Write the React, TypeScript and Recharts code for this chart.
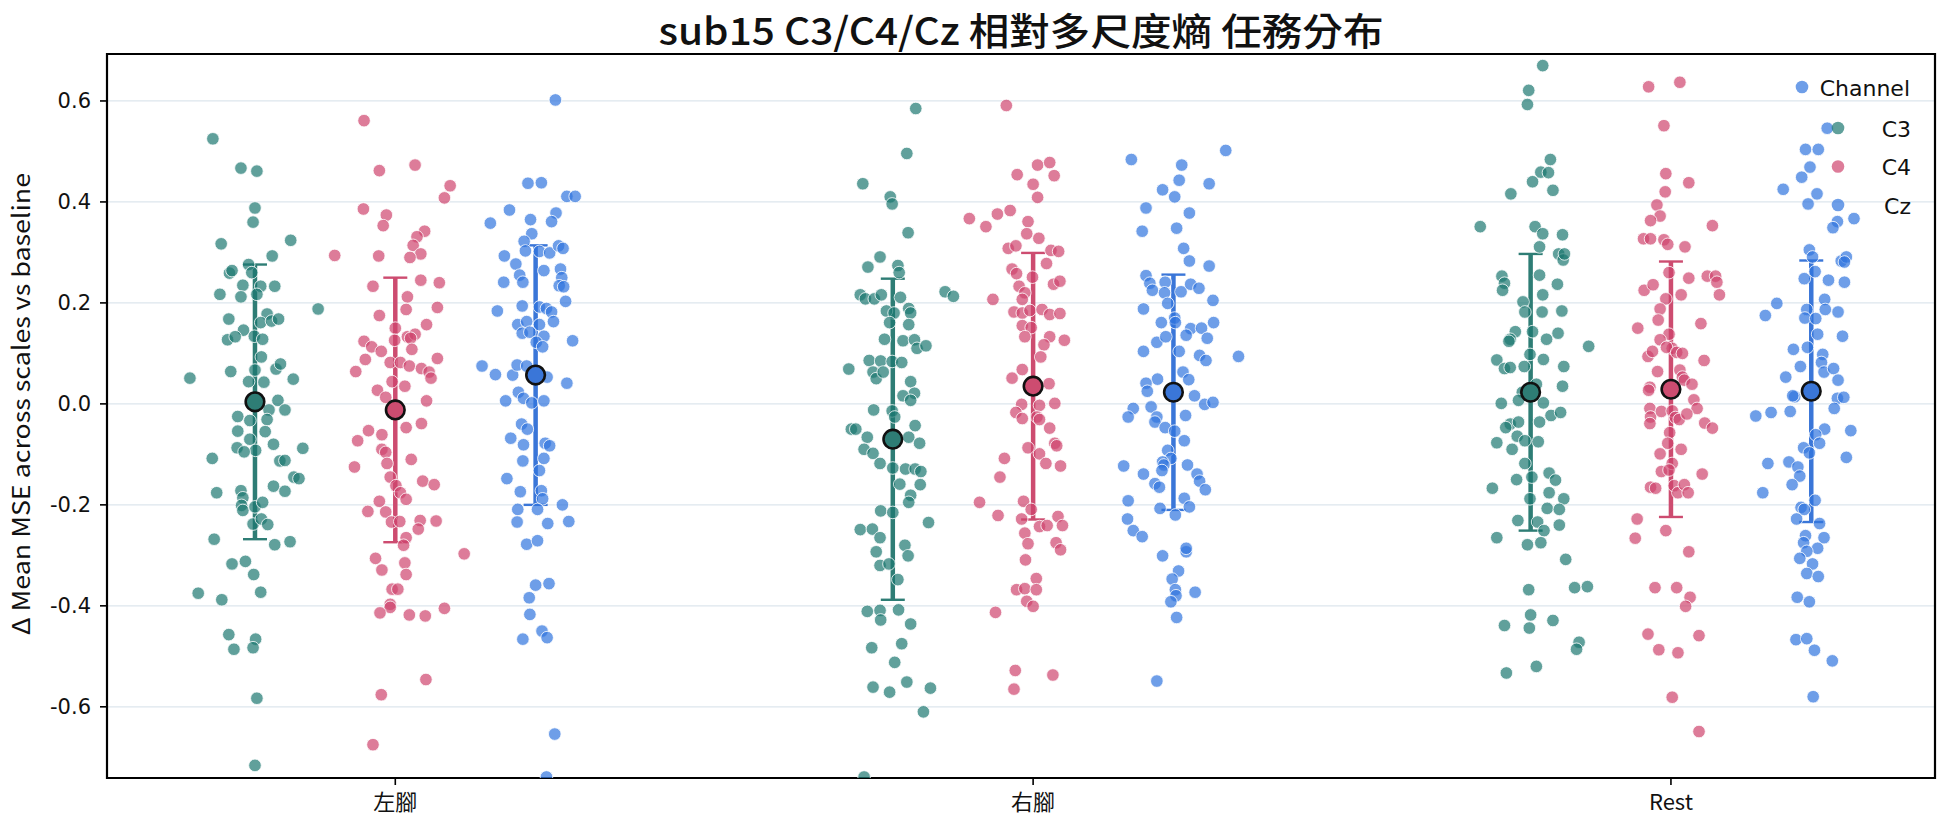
import React from 'react';
import { ScatterChart, Scatter, XAxis, YAxis, CartesianGrid, ErrorBar, ReferenceArea } from 'recharts';

const categories = ['左腳', '右腳', 'Rest'];
const channels = ['C3', 'C4', 'Cz'];
const yTicks = [-0.6, -0.4, -0.2, 0, 0.2, 0.4, 0.6];
const hueOffsets = [-0.22, 0, 0.22];

// [jitter offset (category units), value]
const leftC3 = [[-0.066,0.525],[-0.022,0.467],[0.003,0.461],[0,0.388],[-0.003,0.36],[-0.053,0.317],[0.056,0.324],[0.027,0.293],[-0.04,0.259],[-0.036,0.264],[-0.01,0.276],[-0.005,0.26],[-0.019,0.235],[0.009,0.233],[0.031,0.233],[-0.055,0.217],[-0.022,0.212],[0.003,0.217],[0.099,0.188],[-0.041,0.168],[0.019,0.178],[0.009,0.161],[0.026,0.164],[0.037,0.168],[-0.018,0.146],[-0.043,0.127],[-0.031,0.133],[-0.001,0.134],[0.012,0.128],[0.01,0.093],[-0.102,0.051],[-0.038,0.064],[0,0.067],[0.033,0.069],[0.04,0.079],[0.06,0.049],[-0.01,0.044],[0.014,0.043],[0.036,0.007],[0.047,-0.012],[0.022,-0.012],[-0.027,-0.025],[-0.008,-0.033],[0.019,-0.031],[-0.027,-0.054],[-0.008,-0.07],[0.016,-0.055],[0.029,-0.08],[0.001,-0.092],[-0.028,-0.087],[-0.017,-0.095],[0.075,-0.088],[0.039,-0.113],[0.047,-0.112],[-0.067,-0.108],[-0.06,-0.176],[-0.022,-0.172],[-0.019,-0.186],[-0.021,-0.201],[-0.019,-0.211],[0,-0.204],[0.012,-0.195],[0.029,-0.163],[0.047,-0.173],[0.061,-0.145],[0.069,-0.148],[-0.003,-0.238],[0.01,-0.228],[0.02,-0.239],[-0.064,-0.268],[0.031,-0.279],[0.055,-0.273],[-0.036,-0.317],[-0.015,-0.312],[-0.002,-0.338],[0.009,-0.373],[-0.089,-0.375],[-0.052,-0.388],[-0.041,-0.457],[0.001,-0.466],[-0.033,-0.486],[-0.003,-0.483],[0.003,-0.583],[0,-0.716]];
const leftC4 = [[-0.049,0.561],[-0.025,0.462],[0.031,0.473],[0.086,0.432],[0.077,0.408],[-0.05,0.386],[-0.014,0.374],[-0.019,0.353],[0.046,0.342],[0.034,0.331],[0.028,0.314],[0.04,0.297],[0.023,0.29],[-0.026,0.293],[-0.095,0.294],[-0.035,0.233],[0.04,0.245],[0.069,0.24],[0.019,0.212],[0.066,0.191],[0.017,0.187],[-0.025,0.175],[0.049,0.157],[0,0.15],[0.019,0.133],[0.031,0.138],[0.024,0.13],[-0.001,0.126],[-0.049,0.124],[-0.037,0.113],[-0.022,0.104],[0.026,0.108],[-0.047,0.088],[-0.062,0.064],[-0.008,0.082],[0.008,0.082],[0.022,0.075],[0.041,0.07],[0.053,0.063],[0.056,0.051],[0.066,0.09],[-0.028,0.027],[-0.015,0.013],[0.015,0.035],[-0.005,0.044],[0.049,0.006],[-0.042,-0.053],[-0.059,-0.073],[-0.021,-0.061],[0.017,-0.047],[0.041,-0.039],[-0.021,-0.09],[-0.015,-0.096],[-0.013,-0.118],[0.025,-0.11],[-0.064,-0.125],[-0.008,-0.145],[0.001,-0.162],[0.043,-0.153],[0.061,-0.16],[0.008,-0.176],[0.017,-0.189],[-0.025,-0.193],[-0.043,-0.213],[-0.015,-0.214],[-0.006,-0.234],[0.007,-0.233],[0.039,-0.231],[0.064,-0.232],[0.017,-0.265],[0.036,-0.248],[0.013,-0.28],[-0.031,-0.306],[0.015,-0.315],[-0.021,-0.329],[0.017,-0.338],[0.108,-0.297],[-0.005,-0.367],[0.004,-0.367],[-0.008,-0.397],[-0.008,-0.403],[-0.024,-0.414],[0.022,-0.418],[0.047,-0.42],[0.077,-0.405],[0.048,-0.546],[-0.022,-0.576],[-0.035,-0.675]];
const leftCz = [[0.031,0.602],[-0.012,0.437],[0.009,0.438],[0.049,0.411],[0.062,0.411],[-0.071,0.358],[-0.041,0.384],[-0.008,0.365],[0.032,0.378],[0.025,0.361],[-0.006,0.337],[-0.018,0.322],[-0.016,0.303],[0.006,0.302],[0.022,0.299],[0.036,0.313],[0.043,0.308],[-0.049,0.293],[-0.031,0.277],[-0.025,0.255],[-0.02,0.241],[-0.05,0.241],[0.013,0.264],[0.039,0.267],[0.041,0.25],[0.037,0.234],[0.044,0.232],[0.047,0.203],[-0.06,0.184],[-0.021,0.194],[0.006,0.192],[0.017,0.189],[0.025,0.182],[0.028,0.163],[-0.028,0.157],[-0.014,0.163],[0.006,0.157],[-0.021,0.14],[-0.009,0.142],[0.013,0.134],[0.001,0.122],[0.011,0.113],[0.058,0.125],[-0.084,0.075],[-0.063,0.058],[-0.036,0.057],[-0.029,0.077],[-0.014,0.075],[0.018,0.053],[0.049,0.041],[-0.027,0.023],[-0.019,0.011],[-0.006,0.002],[0.013,0.006],[-0.047,0.006],[-0.022,-0.04],[-0.013,-0.05],[-0.039,-0.068],[-0.019,-0.081],[0.015,-0.078],[0.022,-0.083],[-0.02,-0.113],[0.013,-0.108],[0.006,-0.132],[-0.045,-0.148],[-0.024,-0.174],[0.009,-0.172],[0.011,-0.188],[-0.028,-0.209],[0.003,-0.209],[0.042,-0.2],[-0.029,-0.234],[0.019,-0.237],[0.052,-0.233],[-0.014,-0.278],[0.003,-0.271],[0,-0.359],[0.021,-0.356],[-0.01,-0.384],[-0.009,-0.417],[0.01,-0.45],[0.018,-0.463],[-0.02,-0.466],[0.03,-0.654],[0.017,-0.739]];
const rightC3 = [[0.036,0.585],[0.022,0.496],[-0.047,0.436],[-0.004,0.41],[-0.001,0.396],[0.024,0.339],[-0.02,0.291],[-0.039,0.271],[0.008,0.274],[0.01,0.26],[-0.051,0.216],[-0.043,0.208],[-0.029,0.208],[-0.018,0.216],[0.012,0.211],[0.082,0.222],[0.095,0.213],[-0.01,0.184],[0.002,0.18],[0.025,0.189],[0.028,0.18],[-0.005,0.161],[0.025,0.157],[-0.013,0.128],[0.016,0.125],[0.034,0.127],[0.038,0.11],[0.052,0.115],[-0.037,0.086],[-0.019,0.085],[-0.001,0.084],[0.014,0.082],[-0.031,0.063],[-0.026,0.05],[-0.015,0.063],[-0.069,0.069],[0.028,0.044],[0.034,0.021],[0.016,0.016],[0.028,0.007],[-0.03,-0.012],[-0.001,-0.014],[0.003,-0.026],[0.035,-0.043],[-0.065,-0.05],[-0.058,-0.05],[-0.04,-0.066],[-0.045,-0.09],[-0.031,-0.098],[-0.02,-0.118],[0.025,-0.066],[0.042,-0.078],[0,-0.127],[0.02,-0.129],[0.035,-0.129],[0.044,-0.134],[0.011,-0.159],[0.043,-0.16],[0.028,-0.181],[0.025,-0.195],[-0.019,-0.212],[0,-0.215],[0.056,-0.235],[-0.051,-0.249],[-0.032,-0.248],[-0.02,-0.265],[-0.026,-0.293],[-0.02,-0.32],[-0.006,-0.317],[0.019,-0.28],[0.024,-0.301],[0.008,-0.348],[-0.04,-0.411],[-0.02,-0.409],[-0.019,-0.428],[0.009,-0.408],[0.028,-0.436],[-0.033,-0.483],[0.014,-0.475],[0.003,-0.512],[-0.031,-0.561],[-0.005,-0.571],[0.022,-0.551],[0.059,-0.563],[0.048,-0.61],[-0.045,-0.739]];
const rightC4 = [[-0.042,0.591],[-0.025,0.454],[0.007,0.473],[0.026,0.478],[0.033,0.452],[0,0.435],[0.007,0.409],[-0.1,0.367],[-0.074,0.351],[-0.056,0.376],[-0.036,0.383],[-0.008,0.361],[-0.01,0.337],[0.009,0.328],[-0.039,0.308],[-0.027,0.313],[0.028,0.304],[0.04,0.302],[0.021,0.278],[-0.033,0.267],[-0.026,0.258],[-0.001,0.251],[-0.022,0.233],[-0.013,0.22],[0.032,0.237],[0.042,0.243],[-0.063,0.207],[-0.017,0.207],[-0.03,0.182],[-0.017,0.18],[-0.005,0.185],[0.014,0.187],[0.026,0.177],[0.042,0.179],[-0.017,0.155],[-0.003,0.151],[-0.013,0.133],[0.026,0.133],[0.017,0.117],[0.049,0.126],[0.012,0.093],[-0.033,0.051],[-0.017,0.068],[0.025,0.04],[-0.018,-0.001],[0.01,-0.003],[0.034,0.001],[-0.027,-0.017],[-0.017,-0.029],[0.006,-0.026],[0.01,-0.031],[0.026,-0.048],[-0.008,-0.087],[0.01,-0.099],[0.034,-0.078],[0.037,-0.083],[0.02,-0.118],[0.043,-0.123],[-0.045,-0.108],[-0.052,-0.145],[-0.084,-0.195],[-0.055,-0.221],[-0.015,-0.193],[-0.003,-0.209],[-0.018,-0.228],[0.01,-0.243],[0.022,-0.241],[-0.013,-0.256],[-0.008,-0.277],[0.039,-0.223],[0.046,-0.241],[0.036,-0.275],[0.043,-0.289],[-0.012,-0.309],[0.005,-0.346],[-0.026,-0.368],[-0.013,-0.366],[0.005,-0.368],[-0.01,-0.391],[0,-0.401],[-0.059,-0.413],[-0.028,-0.528],[0.031,-0.537],[-0.03,-0.565]];
const rightCz = [[-0.066,0.484],[0.013,0.473],[0.082,0.502],[0.009,0.443],[0.056,0.436],[-0.017,0.424],[0.002,0.41],[-0.043,0.388],[0.025,0.378],[-0.049,0.342],[0.005,0.348],[0.016,0.308],[0.025,0.283],[0.056,0.273],[-0.043,0.254],[-0.037,0.239],[-0.033,0.225],[-0.013,0.241],[-0.014,0.22],[0.012,0.222],[0.027,0.237],[0.04,0.229],[0.062,0.205],[-0.047,0.188],[-0.009,0.199],[0.002,0.17],[-0.019,0.161],[0.003,0.161],[0.027,0.149],[0.02,0.136],[0.044,0.15],[0.063,0.161],[0.053,0.13],[-0.026,0.122],[-0.012,0.133],[-0.047,0.104],[0.009,0.104],[0.041,0.096],[0.051,0.086],[0.102,0.094],[-0.025,0.049],[-0.043,0.041],[-0.041,0.025],[0.015,0.063],[0.024,0.048],[0.033,0.016],[0.049,-0.001],[0.062,0.003],[-0.063,-0.009],[-0.071,-0.026],[-0.035,-0.006],[-0.026,-0.026],[-0.029,-0.036],[-0.013,-0.047],[0.002,-0.054],[0.019,-0.023],[0.017,-0.073],[-0.009,-0.092],[-0.004,-0.108],[-0.017,-0.115],[-0.015,-0.121],[-0.078,-0.123],[-0.047,-0.139],[0.022,-0.121],[0.037,-0.139],[0.041,-0.153],[0.05,-0.17],[-0.029,-0.158],[-0.022,-0.165],[-0.018,-0.132],[-0.071,-0.192],[0.017,-0.187],[0.025,-0.204],[-0.021,-0.207],[0.003,-0.22],[-0.072,-0.228],[-0.063,-0.251],[-0.049,-0.263],[-0.017,-0.301],[0.02,-0.293],[0.02,-0.286],[0.008,-0.331],[-0.002,-0.347],[0.003,-0.368],[0.004,-0.38],[-0.004,-0.392],[0.034,-0.373],[0.005,-0.423],[-0.026,-0.549]];
const restC3 = [[0.019,0.67],[-0.003,0.621],[-0.005,0.593],[0.031,0.484],[0.016,0.459],[0.028,0.458],[0.003,0.44],[0.035,0.423],[-0.031,0.416],[-0.079,0.351],[0.007,0.351],[0.019,0.337],[0.05,0.335],[0.014,0.311],[0.044,0.297],[0.051,0.285],[0.053,0.297],[-0.045,0.253],[-0.041,0.239],[-0.044,0.225],[0.014,0.255],[0.042,0.237],[0.019,0.216],[-0.012,0.202],[-0.009,0.182],[0.018,0.182],[0.049,0.184],[-0.024,0.143],[-0.032,0.128],[-0.034,0.124],[0.003,0.143],[0.025,0.128],[0.043,0.14],[0.091,0.114],[-0.053,0.087],[-0.041,0.07],[-0.032,0.072],[-0.01,0.074],[-0.001,0.098],[0.02,0.088],[0.052,0.074],[0.05,0.035],[-0.013,0.023],[0.009,0.039],[0.02,0.002],[-0.046,0.001],[-0.019,0.007],[0.032,-0.023],[0.047,-0.017],[-0.032,-0.04],[-0.039,-0.047],[-0.019,-0.036],[0.014,-0.036],[-0.021,-0.064],[-0.053,-0.077],[-0.029,-0.09],[-0.009,-0.073],[0.012,-0.075],[-0.009,-0.118],[-0.022,-0.15],[0.002,-0.145],[-0.06,-0.167],[0.029,-0.137],[0.039,-0.151],[0.029,-0.176],[-0.001,-0.188],[0.052,-0.188],[0.026,-0.207],[0.045,-0.209],[0.045,-0.24],[-0.02,-0.231],[0.011,-0.234],[0.021,-0.251],[-0.053,-0.265],[-0.005,-0.279],[0.016,-0.275],[0.055,-0.308],[-0.003,-0.368],[0.069,-0.364],[0.089,-0.362],[0,-0.418],[-0.041,-0.439],[-0.002,-0.444],[0.035,-0.429],[0.076,-0.472],[0.072,-0.486],[0.009,-0.52],[-0.038,-0.533]];
const restC4 = [[-0.035,0.628],[0.014,0.637],[-0.011,0.551],[-0.008,0.456],[0.028,0.438],[-0.009,0.42],[-0.022,0.394],[-0.017,0.372],[-0.032,0.363],[0.065,0.353],[-0.043,0.327],[-0.032,0.327],[-0.011,0.325],[-0.005,0.316],[0.022,0.311],[-0.003,0.26],[0.028,0.249],[0.057,0.253],[0.07,0.253],[0.072,0.241],[0.076,0.216],[-0.042,0.225],[-0.028,0.236],[0.016,0.216],[-0.008,0.208],[-0.017,0.188],[-0.02,0.166],[0.047,0.159],[-0.052,0.15],[-0.003,0.138],[-0.017,0.127],[0.002,0.11],[-0.007,0.112],[0.009,0.102],[0.018,0.1],[-0.036,0.094],[-0.029,0.104],[0.052,0.086],[-0.021,0.064],[0.014,0.067],[0.018,0.053],[0.021,0.047],[0.033,0.039],[-0.033,0.033],[-0.035,0.027],[0.036,0.008],[0.041,-0.009],[-0.033,-0.009],[-0.032,-0.026],[-0.033,-0.039],[-0.015,-0.015],[0.002,-0.014],[0.007,-0.027],[0.013,-0.031],[0.025,-0.02],[0.053,-0.038],[0.065,-0.048],[-0.002,-0.057],[-0.005,-0.078],[0.016,-0.09],[-0.017,-0.099],[0.002,-0.118],[-0.015,-0.134],[-0.003,-0.131],[0.049,-0.139],[-0.032,-0.165],[-0.024,-0.167],[0.005,-0.162],[0.011,-0.176],[0.021,-0.16],[0.027,-0.176],[-0.053,-0.228],[-0.056,-0.266],[-0.008,-0.251],[0.028,-0.293],[-0.025,-0.364],[0.009,-0.364],[0.03,-0.383],[0.023,-0.401],[-0.036,-0.456],[0.044,-0.459],[-0.019,-0.487],[0.011,-0.493],[0.002,-0.581],[0.044,-0.649]];
const restCz = [[0.025,0.546],[-0.009,0.504],[0.011,0.504],[-0.002,0.469],[-0.015,0.449],[-0.044,0.425],[0.009,0.416],[-0.005,0.396],[0.067,0.367],[0.041,0.361],[0.034,0.349],[-0.003,0.305],[0.002,0.291],[0.047,0.283],[0.055,0.291],[0.052,0.281],[0.006,0.262],[-0.011,0.248],[0.027,0.245],[0.052,0.241],[-0.054,0.199],[-0.072,0.175],[0.021,0.207],[0.022,0.187],[0.042,0.182],[-0.007,0.187],[-0.01,0.17],[0.007,0.169],[0.01,0.138],[0.049,0.134],[-0.028,0.108],[-0.006,0.112],[0.018,0.098],[0.016,0.082],[0.02,0.063],[0.035,0.07],[-0.04,0.053],[-0.017,0.074],[0.042,0.047],[-0.026,0.014],[-0.029,0.016],[-0.033,-0.015],[0.041,0.011],[0.051,0.013],[0.036,-0.009],[-0.063,-0.017],[-0.087,-0.024],[0.021,-0.05],[0.062,-0.053],[0.007,-0.061],[0.013,-0.078],[-0.012,-0.087],[-0.003,-0.097],[0.055,-0.106],[-0.068,-0.118],[-0.035,-0.115],[-0.021,-0.125],[-0.018,-0.143],[-0.03,-0.16],[-0.076,-0.176],[0.006,-0.191],[-0.016,-0.205],[-0.011,-0.209],[-0.023,-0.228],[0.013,-0.237],[0.02,-0.265],[-0.009,-0.261],[-0.012,-0.275],[0.01,-0.286],[-0.007,-0.292],[-0.018,-0.306],[0.002,-0.317],[-0.007,-0.336],[0.011,-0.342],[-0.022,-0.383],[-0.003,-0.392],[-0.024,-0.467],[-0.007,-0.465],[0.005,-0.488],[0.033,-0.509],[0.003,-0.58]];

// mean and standard deviation per category, order C3, C4, Cz
const meanLeft = [0.004, -0.012, 0.057];
const meanRight = [-0.07, 0.035, 0.023];
const meanRest = [0.023, 0.029, 0.025];
const sdLeft = [0.272, 0.262, 0.257];
const sdRight = [0.318, 0.264, 0.233];
const sdRest = [0.274, 0.253, 0.259];

const pointColors = ['#1d7770', '#cf446d', '#3175de'];
const meanColors = ['#2e7d75', '#cd4c70', '#3a76d8'];

const groups = [
  [leftC3, leftC4, leftCz],
  [rightC3, rightC4, rightCz],
  [restC3, restC4, restCz],
];
const means = [meanLeft, meanRight, meanRest];
const sds = [sdLeft, sdRight, sdRest];

const X_DOMAIN = [-0.452, 2.414];
const Y_DOMAIN = [-0.741, 0.693];

const stripData = channels.map((_, h) => {
  const out: { x: number; y: number }[] = [];
  groups.forEach((g, c) => {
    g[h].forEach(([dx, v]) => out.push({ x: c + hueOffsets[h] + dx, y: v }));
  });
  return out;
});
const meanData = channels.map((_, h) =>
  categories.map((__, c) => ({ x: c + hueOffsets[h], y: means[c][h], err: sds[c][h] }))
);

const tickFont = 'DejaVu Sans, sans-serif';
const cjkFont = '"Noto Sans CJK TC", "Noto Sans", sans-serif';

const PointShape = (color: string) => (props: any) => {
  const { cx, cy } = props;
  if (cx == null || cy == null) return <g />;
  return <circle cx={cx} cy={cy} r={6.3} fill={color} fillOpacity={0.7} stroke="#ffffff" strokeWidth={0.9} strokeOpacity={0.9} />;
};
const MeanShape = (color: string) => (props: any) => {
  const { cx, cy } = props;
  if (cx == null || cy == null) return <g />;
  return <circle cx={cx} cy={cy} r={9.3} fill={color} stroke="#111" strokeWidth={2.6} />;
};
const NoShape = () => <g />;

export default function App() {
  return (
    <div style={{ position: 'absolute', left: 0, top: 0, width: 1944, height: 827, background: '#fff' }}>
      <ScatterChart width={1944} height={827} margin={{ top: 54, right: 9, bottom: 0, left: 0 }}>
        <CartesianGrid horizontal vertical={false} stroke="#dde6ed" strokeWidth={1.3} />
        <XAxis
          type="number"
          dataKey="x"
          domain={X_DOMAIN}
          allowDataOverflow
          ticks={[0, 1, 2]}
          tickFormatter={(v: number) => categories[Math.round(v)]}
          height={49}
          axisLine={{ stroke: '#000', strokeWidth: 2 }}
          tickLine={{ stroke: '#000', strokeWidth: 1.6 }}
          tickSize={7}
          tickMargin={9}
          tick={{ fill: '#111', fontSize: 22, fontFamily: cjkFont }}
        />
        <YAxis
          type="number"
          dataKey="y"
          domain={Y_DOMAIN}
          allowDataOverflow
          ticks={yTicks}
          tickFormatter={(v: number) => v.toFixed(1)}
          width={107}
          axisLine={{ stroke: '#000', strokeWidth: 2 }}
          tickLine={{ stroke: '#000', strokeWidth: 1.6 }}
          tickSize={7}
          tickMargin={9}
          tick={{ fill: '#111', fontSize: 21, fontFamily: tickFont }}
        />
        <ReferenceArea x1={X_DOMAIN[0]} x2={X_DOMAIN[1]} y1={Y_DOMAIN[0]} y2={Y_DOMAIN[1]} fill="none" stroke="#000" strokeWidth={2.2} ifOverflow="visible" />
        {stripData.map((d, h) => (
          <Scatter key={'s' + h} data={d} shape={PointShape(pointColors[h])} isAnimationActive={false} />
        ))}
        {meanData.map((d, h) => (
          <Scatter key={'e' + h} data={d} shape={NoShape} isAnimationActive={false}>
            <ErrorBar dataKey="err" direction="y" width={12} strokeWidth={2.4} stroke={meanColors[h]} />
            <ErrorBar dataKey="err" direction="y" width={0} strokeWidth={4.5} stroke={meanColors[h]} />
          </Scatter>
        ))}
        {meanData.map((d, h) => (
          <Scatter key={'m' + h} data={d} shape={MeanShape(meanColors[h])} isAnimationActive={false} />
        ))}
      </ScatterChart>
      <svg width={1944} height={827} style={{ position: 'absolute', left: 0, top: 0, pointerEvents: 'none' }}>
        <text x={1021} y={28} textAnchor="middle" dominantBaseline="central" fontFamily={cjkFont} fontSize={38} fontWeight={500} fill="#111" textLength={725} lengthAdjust="spacingAndGlyphs">
          sub15 C3/C4/Cz 相對多尺度熵 任務分布
        </text>
        <text x={19} y={404} transform="rotate(-90 19 404)" textAnchor="middle" dominantBaseline="central" fontFamily={cjkFont} fontSize={24} fill="#111" textLength={462} lengthAdjust="spacingAndGlyphs">
          Δ Mean MSE across scales vs baseline
        </text>
        <circle cx={1802} cy={87} r={6.3} fill={pointColors[2]} fillOpacity={0.7} />
        <text x={1910} y={88} textAnchor="end" dominantBaseline="central" fontFamily={tickFont} fontSize={22} fill="#111">Channel</text>
        {channels.map((ch, h) => (
          <g key={ch}>
            <circle cx={1838} cy={128 + h * 38.5} r={6.3} fill={pointColors[h]} fillOpacity={0.7} />
            <text x={1911} y={129 + h * 38.5} textAnchor="end" dominantBaseline="central" fontFamily={tickFont} fontSize={22} fill="#111">{ch}</text>
          </g>
        ))}
      </svg>
    </div>
  );
}
